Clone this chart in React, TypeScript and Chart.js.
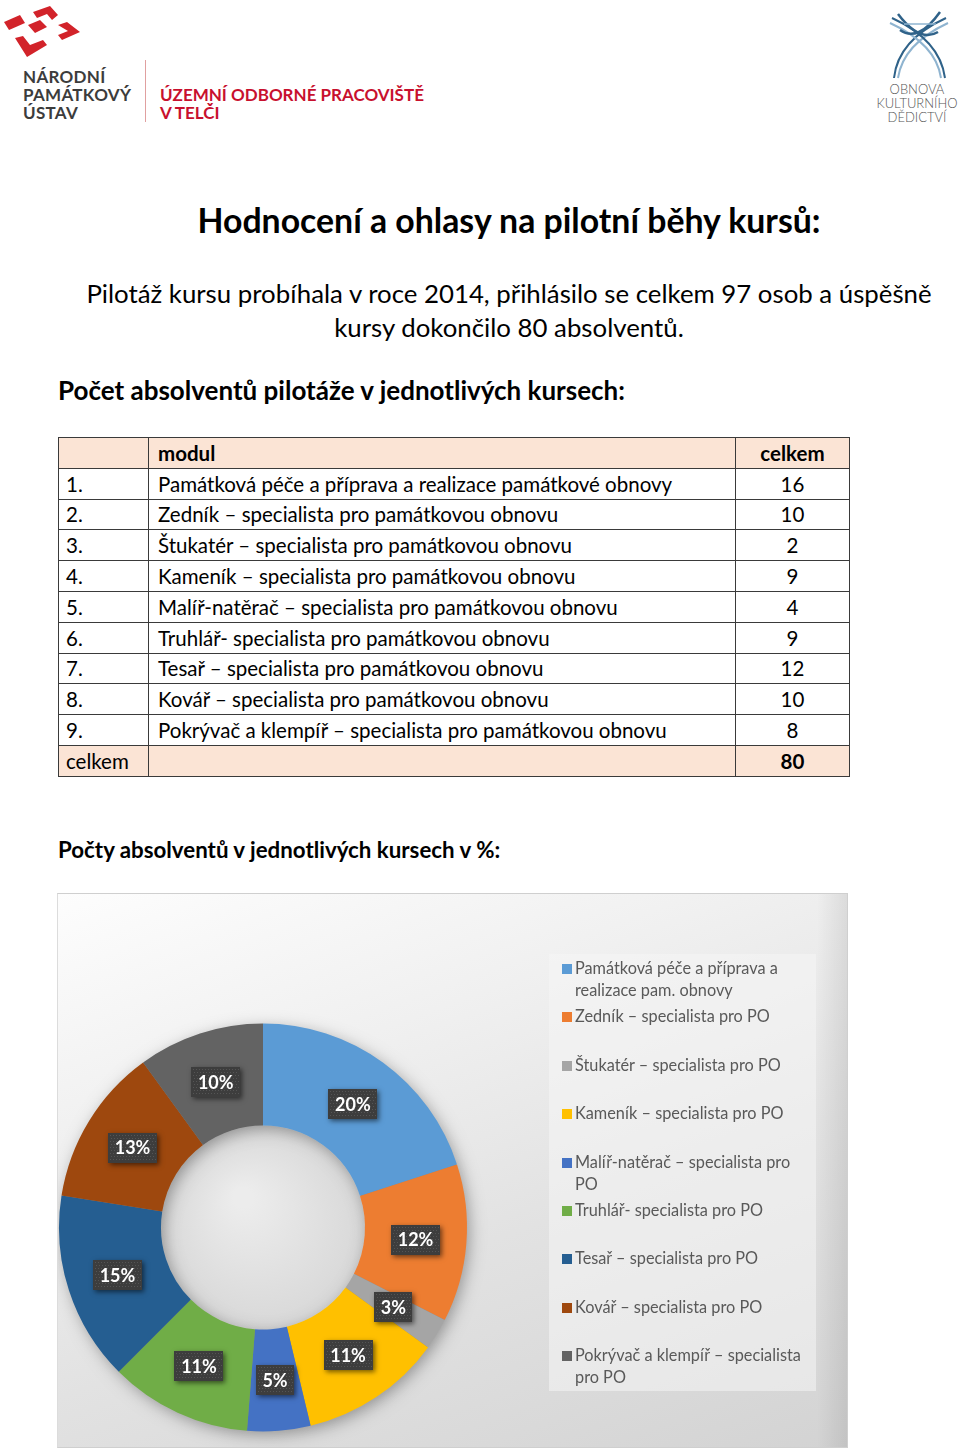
import React, { useEffect, useRef } from "react";
import { Chart, registerables } from "chart.js";

Chart.register(...registerables);

const FONT = "Lato, 'Open Sans', 'Noto Sans', sans-serif";

// ---------- data ----------
const rowNumbers = ["1.", "2.", "3.", "4.", "5.", "6.", "7.", "8.", "9."];
const moduleNames = [
  "Památková péče a příprava a realizace památkové obnovy",
  "Zedník – specialista pro památkovou obnovu",
  "Štukatér – specialista pro památkovou obnovu",
  "Kameník – specialista pro památkovou obnovu",
  "Malíř-natěrač – specialista pro památkovou obnovu",
  "Truhlář- specialista pro památkovou obnovu",
  "Tesař – specialista pro památkovou obnovu",
  "Kovář – specialista pro památkovou obnovu",
  "Pokrývač a klempíř – specialista pro památkovou obnovu",
];
const graduates = [16, 10, 2, 9, 4, 9, 12, 10, 8];
const totalGraduates = 80;

const legendLabels: string[][] = [
  ["Památková péče a příprava a", "realizace pam. obnovy"],
  ["Zedník – specialista pro PO"],
  ["Štukatér – specialista pro PO"],
  ["Kameník – specialista pro PO"],
  ["Malíř-natěrač – specialista pro", "PO"],
  ["Truhlář- specialista pro PO"],
  ["Tesař – specialista pro PO"],
  ["Kovář – specialista pro PO"],
  ["Pokrývač a klempíř – specialista", "pro PO"],
];
const percentLabels = ["20%", "12%", "3%", "11%", "5%", "11%", "15%", "13%", "10%"];
const sliceColors = [
  "#5B9BD5",
  "#ED7D31",
  "#A5A5A5",
  "#FFC000",
  "#4472C4",
  "#70AD47",
  "#255E91",
  "#9E480E",
  "#636363",
];

// ---------- chart plugins ----------
const ringDecorPlugin = {
  id: "ringDecor",
  beforeDatasetsDraw(chart: any) {
    const arc = chart.getDatasetMeta(0).data[0];
    if (!arc) return;
    const { x, y, innerRadius, outerRadius } = arc.getProps(
      ["x", "y", "innerRadius", "outerRadius"],
      true
    );
    const ctx = chart.ctx;
    ctx.save();
    const g = ctx.createRadialGradient(x - 20, y - 30, 10, x, y, innerRadius);
    g.addColorStop(0, "#ececec");
    g.addColorStop(1, "#d8d8d8");
    ctx.fillStyle = g;
    ctx.beginPath();
    ctx.arc(x, y, innerRadius, 0, Math.PI * 2);
    ctx.fill();
    ctx.shadowColor = "rgba(0,0,0,0.35)";
    ctx.shadowBlur = 16;
    ctx.shadowOffsetX = 3;
    ctx.shadowOffsetY = 4;
    ctx.fillStyle = "#888";
    ctx.beginPath();
    ctx.arc(x, y, outerRadius - 1, 0, Math.PI * 2, false);
    ctx.arc(x, y, innerRadius + 1, 0, Math.PI * 2, true);
    ctx.fill();
    ctx.restore();
  },
};

const percentLabelPlugin = {
  id: "percentLabels",
  afterDatasetsDraw(chart: any) {
    const ctx = chart.ctx;
    const meta = chart.getDatasetMeta(0);
    ctx.save();
    ctx.font = `bold 18px ${FONT}`;
    meta.data.forEach((el: any, i: number) => {
      const p = el.tooltipPosition(true);
      const text = percentLabels[i];
      const w = Math.round(ctx.measureText(text).width + 13);
      const h = 30;
      const bx = Math.round(p.x - w / 2);
      const by = Math.round(p.y - h / 2);
      ctx.shadowColor = "rgba(0,0,0,0.55)";
      ctx.shadowBlur = 5;
      ctx.shadowOffsetX = 2;
      ctx.shadowOffsetY = 2;
      ctx.fillStyle = "#3d3d3d";
      ctx.fillRect(bx, by, w, h);
      ctx.shadowColor = "transparent";
      ctx.shadowBlur = 0;
      ctx.shadowOffsetX = 0;
      ctx.shadowOffsetY = 0;
      ctx.fillStyle = "rgba(95,95,95,0.7)";
      for (let yy = by + 2; yy < by + h - 1; yy += 3) {
        for (let xx = bx + 2 + ((yy - by) % 2); xx < bx + w - 1; xx += 3) {
          ctx.fillRect(xx, yy, 1, 1);
        }
      }
      ctx.fillStyle = "#ffffff";
      ctx.textAlign = "center";
      ctx.textBaseline = "middle";
      ctx.fillText(text, p.x, p.y + 1);
    });
    ctx.restore();
  },
};

// ---------- components ----------
function DonutChart() {
  const ref = useRef<HTMLCanvasElement | null>(null);
  useEffect(() => {
    if (!ref.current) return;
    const chart = new Chart(ref.current, {
      type: "doughnut",
      data: {
        labels: legendLabels.map((l) => l.join(" ")),
        datasets: [
          {
            data: graduates,
            backgroundColor: sliceColors,
            borderWidth: 0,
            hoverOffset: 0,
            offset: 0,
          },
        ],
      },
      options: {
        responsive: false,
        animation: false,
        cutout: "50%",
        rotation: 0,
        layout: { padding: { left: 1, top: 129, right: 382, bottom: 17 } },
        plugins: {
          legend: { display: false },
          tooltip: { enabled: false },
        },
        events: [],
      },
      plugins: [ringDecorPlugin, percentLabelPlugin],
    });
    return () => chart.destroy();
  }, []);
  return (
    <canvas
      ref={ref}
      width={791}
      height={555}
      style={{ position: "absolute", left: 0, top: 0, width: 791, height: 555 }}
    />
  );
}

function LeftLogo() {
  const red = "#d2232a";
  return (
    <>
      <svg
        width={90}
        height={62}
        style={{ position: "absolute", left: 0, top: 0 }}
      >
        <polygon points="4,22 20,15 25,23 9,30" fill={red} />
        <polygon points="33,12 50,6 58,15 52,20 47,14 37,18" fill={red} />
        <polygon points="28,25 40,20 47,27 35,33" fill={red} />
        <polygon points="58,25 67,22 80,32 62,40 58,35 68,31" fill={red} />
        <polygon points="15,38 23,36 30,45 43,40 47,45 27,57" fill={red} />
      </svg>
      <div
        style={{
          position: "absolute",
          left: 23,
          top: 68,
          fontWeight: 700,
          fontSize: 17,
          lineHeight: "18px",
          color: "#3c3c3c",
          letterSpacing: 0.3,
          whiteSpace: "nowrap",
        }}
      >
        NÁRODNÍ
        <br />
        PAMÁTKOVÝ
        <br />
        ÚSTAV
      </div>
      <div
        style={{
          position: "absolute",
          left: 145,
          top: 60,
          width: 1,
          height: 62,
          background: "#e0a0a0",
        }}
      />
      <div
        style={{
          position: "absolute",
          left: 160,
          top: 86,
          fontWeight: 700,
          fontSize: 17,
          lineHeight: "18px",
          color: "#c8102e",
          whiteSpace: "nowrap",
        }}
      >
        ÚZEMNÍ ODBORNÉ PRACOVIŠTĚ
        <br />V TELČI
      </div>
    </>
  );
}

function RightLogo() {
  const dark = "#2f6289";
  const light = "#8fb4d0";
  return (
    <>
      <svg
        width={90}
        height={90}
        style={{ position: "absolute", left: 870, top: 0 }}
      >
        <path d="M 24 78 Q 28 40 76 18" stroke={dark} strokeWidth={2} fill="none" />
        <path d="M 28 78 Q 33 44 78 23" stroke={light} strokeWidth={2} fill="none" />
        <path d="M 75 78 Q 70 40 22 18" stroke={dark} strokeWidth={2} fill="none" />
        <path d="M 71 78 Q 66 44 20 23" stroke={light} strokeWidth={2} fill="none" />
        <path d="M 30 30 Q 48 43 70 12" stroke={dark} strokeWidth={2.5} fill="none" />
        <path d="M 68 32 Q 50 43 28 14" stroke={dark} strokeWidth={2.5} fill="none" />
        <path d="M 34 24 L 66 24" stroke={light} strokeWidth={1.5} fill="none" />
      </svg>
      <div
        style={{
          position: "absolute",
          left: 868,
          top: 82,
          width: 98,
          textAlign: "center",
          fontSize: 13,
          lineHeight: "14px",
          fontWeight: 300,
          color: "#555",
          whiteSpace: "nowrap",
        }}
      >
        OBNOVA
        <br />
        KULTURNÍHO
        <br />
        DĚDICTVÍ
      </div>
    </>
  );
}

const cellBorder = "1px solid #3a3a3a";
const peach = "#FBE4D5";

function GraduatesTable() {
  const rowH = 30.8;
  const td = (extra: React.CSSProperties = {}): React.CSSProperties => ({
    border: cellBorder,
    padding: 0,
    height: rowH,
    boxSizing: "border-box",
    verticalAlign: "middle",
    whiteSpace: "nowrap",
    ...extra,
  });
  return (
    <table
      style={{
        position: "absolute",
        left: 58,
        top: 437,
        width: 791,
        borderCollapse: "collapse",
        tableLayout: "fixed",
        fontSize: 20.5,
        fontFamily: FONT,
        color: "#000",
      }}
    >
      <colgroup>
        <col style={{ width: 90 }} />
        <col style={{ width: 587 }} />
        <col style={{ width: 114 }} />
      </colgroup>
      <tbody>
        <tr style={{ background: peach }}>
          <td style={td()} />
          <td style={td({ paddingLeft: 9, fontWeight: 700 })}>modul</td>
          <td style={td({ textAlign: "center", fontWeight: 700 })}>celkem</td>
        </tr>
        {moduleNames.map((name, i) => (
          <tr key={i}>
            <td style={td({ paddingLeft: 7 })}>{rowNumbers[i]}</td>
            <td style={td({ paddingLeft: 9 })}>{name}</td>
            <td style={td({ textAlign: "center" })}>{graduates[i]}</td>
          </tr>
        ))}
        <tr style={{ background: peach }}>
          <td style={td({ paddingLeft: 7 })}>celkem</td>
          <td style={td()} />
          <td style={td({ textAlign: "center", fontWeight: 700 })}>
            {totalGraduates}
          </td>
        </tr>
      </tbody>
    </table>
  );
}

function ChartBox() {
  return (
    <div
      style={{
        position: "absolute",
        left: 57,
        top: 893,
        width: 791,
        height: 555,
        boxSizing: "border-box",
        borderTop: "1px solid #cfcfcf",
        borderLeft: "1px solid #dcdcdc",
        borderRight: "1px solid #cfcfcf",
        borderBottom: "1px solid #cfcfcf",
        background:
          "linear-gradient(160deg, #fdfdfd 0%, #f0f0f0 30%, #e2e2e2 60%, #d3d3d3 100%)",
        overflow: "hidden",
      }}
    >
      <div
        style={{
          position: "absolute",
          right: 0,
          top: 0,
          width: 30,
          height: "100%",
          background: "linear-gradient(90deg, rgba(0,0,0,0) 0%, rgba(0,0,0,0.08) 100%)",
        }}
      />
      <div
        style={{
          position: "absolute",
          left: 491,
          top: 60,
          width: 267,
          height: 437,
          background: "rgba(245,245,245,0.55)",
        }}
      />
      <DonutChart />
      <div
        style={{
          position: "absolute",
          left: 491,
          top: 60,
          width: 267,
          height: 437,
        }}
      >
        {legendLabels.map((lines, i) => (
          <div
            key={i}
            style={{
              position: "absolute",
              left: 0,
              top: 3 + i * 48.4,
              width: 267,
              fontFamily: FONT,
              fontSize: 16.3,
              lineHeight: "22px",
              color: "#595959",
              whiteSpace: "nowrap",
            }}
          >
            <div
              style={{
                position: "absolute",
                left: 13,
                top: 7,
                width: 10,
                height: 10,
                background: sliceColors[i],
              }}
            />
            <div style={{ position: "absolute", left: 26, top: 0 }}>
              {lines.map((l, k) => (
                <div key={k}>{l}</div>
              ))}
            </div>
          </div>
        ))}
      </div>
    </div>
  );
}

export default function App() {
  return (
    <div
      style={{
        position: "absolute",
        left: 0,
        top: 0,
        width: 960,
        height: 1453,
        overflow: "hidden",
        background: "#fff",
        fontFamily: FONT,
        color: "#000",
      }}
    >
      <LeftLogo />
      <RightLogo />
      <div
        style={{
          position: "absolute",
          left: 58,
          width: 902,
          top: 200,
          lineHeight: "40px",
          fontSize: 33.8,
          fontWeight: 700,
          textAlign: "center",
          whiteSpace: "nowrap",
        }}
      >
        Hodnocení a ohlasy na pilotní běhy kursů:
      </div>
      <div
        style={{
          position: "absolute",
          left: 58,
          width: 902,
          top: 276,
          lineHeight: "34px",
          fontSize: 25.8,
          textAlign: "center",
          whiteSpace: "nowrap",
        }}
      >
        Pilotáž kursu probíhala v roce 2014, přihlásilo se celkem 97 osob a úspěšně
        <br />
        kursy dokončilo 80 absolventů.
      </div>
      <div
        style={{
          position: "absolute",
          left: 58,
          top: 374,
          lineHeight: "32px",
          fontSize: 26,
          fontWeight: 700,
          whiteSpace: "nowrap",
        }}
      >
        Počet absolventů pilotáže v jednotlivých kursech:
      </div>
      <GraduatesTable />
      <div
        style={{
          position: "absolute",
          left: 58,
          top: 835,
          lineHeight: "30px",
          fontSize: 22.3,
          fontWeight: 700,
          whiteSpace: "nowrap",
        }}
      >
        Počty absolventů v jednotlivých kursech v %:
      </div>
      <ChartBox />
    </div>
  );
}
